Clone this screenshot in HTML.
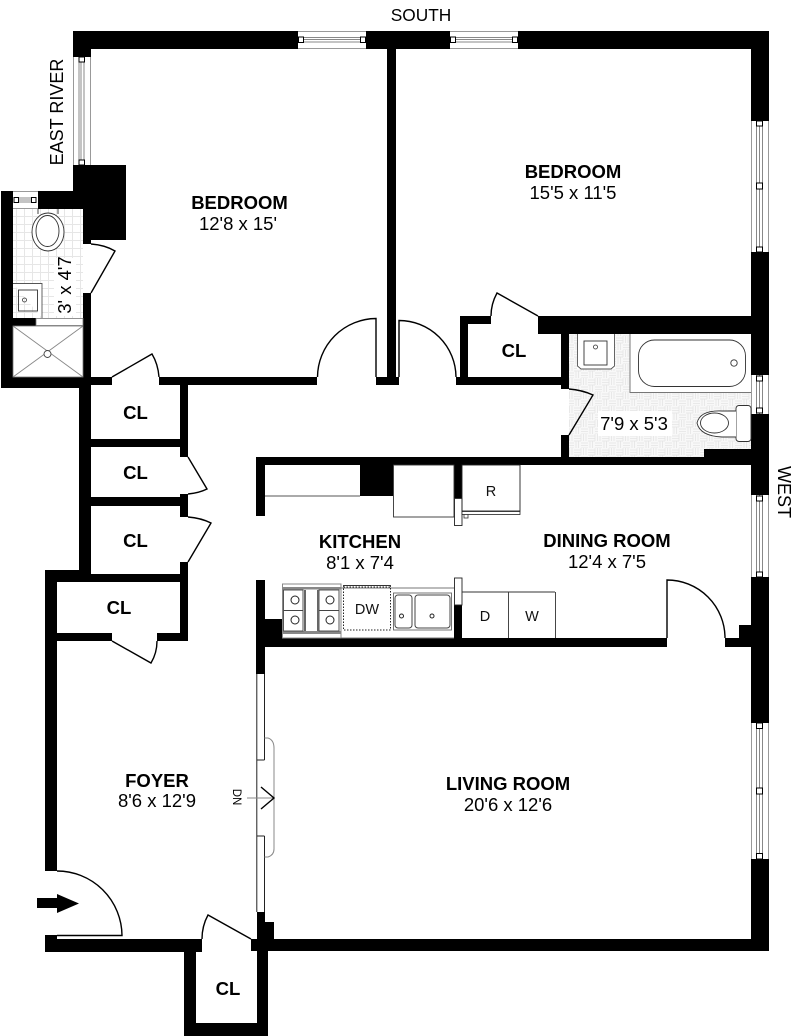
<!DOCTYPE html>
<html><head><meta charset="utf-8"><title>Floor plan</title>
<style>
html,body{margin:0;padding:0;background:#fff;width:800px;height:1036px;overflow:hidden}
svg{display:block}
text{font-family:"Liberation Sans",sans-serif;font-size:18.5px;fill:#000;text-anchor:middle}
.b{font-weight:bold}
.s{font-size:14.5px;fill:#111}
.d{fill:none;stroke:#000;stroke-width:1.4}
.g{fill:none;stroke:#888;stroke-width:1}
.t{fill:none;stroke:#222;stroke-width:1}
.sq{fill:#fff;stroke:#000;stroke-width:1}
.wl{fill:none;stroke:#999;stroke-width:1}
</style></head><body>
<svg width="800" height="1036" viewBox="0 0 800 1036" xmlns="http://www.w3.org/2000/svg">
<defs>
<pattern id="grid" width="8" height="8" patternUnits="userSpaceOnUse"><path d="M0 .5H8M.5 0V8" stroke="#e6e6e6" stroke-width="1" fill="none"/></pattern>
<pattern id="weave" width="14" height="14" patternUnits="userSpaceOnUse"><rect width="14" height="14" fill="#f8f8f8"/><path d="M0 2H7M0 4.5H7M0 7H7M7 0V7M9.5 0V7M12 0V7M7 9H14M7 11.5H14M7 14H14M2 7V14M4.5 7V14" stroke="#e4e4e4" stroke-width=".8" fill="none"/></pattern>
</defs>

<rect x="13" y="209" width="70" height="109" fill="url(#grid)"/>
<rect x="569" y="334" width="182" height="123" fill="url(#weave)"/>
<rect x="630" y="334" width="121" height="59" fill="#fff"/>
<rect x="577" y="334" width="38" height="35" fill="#fff"/>
<rect x="598" y="411" width="74" height="25" fill="#fff"/>
<rect x="54" y="258" width="22" height="58" fill="#fff"/>

<g fill="#000">
<rect x="73" y="31" width="225" height="18"/>
<rect x="366" y="31" width="84" height="18"/>
<rect x="518" y="31" width="251" height="18"/>
<rect x="73" y="49" width="18" height="8"/>
<rect x="73" y="165" width="53" height="26"/>
<rect x="38" y="191" width="88" height="18"/>
<rect x="83" y="209" width="43" height="31"/>
<rect x="83" y="240" width="8" height="4"/>
<rect x="1" y="191" width="12" height="197"/>
<rect x="1" y="377" width="90" height="11"/>
<rect x="83" y="293" width="8" height="92"/>
<rect x="13" y="318" width="23" height="8"/>
<rect x="83" y="377" width="29" height="8"/>
<rect x="159" y="377" width="158" height="8"/>
<rect x="79" y="385" width="12" height="189"/>
<rect x="180" y="385" width="8" height="72"/>
<rect x="79" y="439" width="109" height="8"/>
<rect x="79" y="497" width="109" height="9"/>
<rect x="180" y="494" width="8" height="23"/>
<rect x="180" y="562" width="8" height="79"/>
<rect x="46" y="570" width="45" height="12"/>
<rect x="46" y="574" width="142" height="8"/>
<rect x="45" y="570" width="12" height="301"/>
<rect x="57" y="633" width="55" height="8"/>
<rect x="157" y="633" width="31" height="8"/>
<rect x="45" y="935" width="12" height="17"/>
<rect x="45" y="939" width="157" height="13"/>
<rect x="184" y="952" width="12" height="72"/>
<rect x="184" y="1023" width="84" height="13"/>
<rect x="257" y="951" width="11" height="73"/>
<rect x="251" y="939" width="518" height="12"/>
<rect x="257" y="922" width="17" height="17"/>
<rect x="257" y="912" width="8" height="27"/>
<rect x="256" y="580" width="9" height="94"/>
<rect x="256" y="619" width="26" height="19"/>
<rect x="256" y="638" width="411" height="9"/>
<rect x="725" y="638" width="27" height="9"/>
<rect x="739" y="625" width="30" height="13"/>
<rect x="256" y="457" width="496" height="8"/>
<rect x="256" y="465" width="9" height="51"/>
<rect x="360" y="465" width="33" height="31"/>
<rect x="454" y="465" width="8" height="33"/>
<rect x="454" y="605" width="8" height="33"/>
<rect x="751" y="49" width="18" height="72"/>
<rect x="751" y="252" width="18" height="123"/>
<rect x="751" y="414" width="18" height="81"/>
<rect x="751" y="577" width="18" height="146"/>
<rect x="751" y="859" width="18" height="92"/>
<rect x="538" y="316" width="213" height="18"/>
<rect x="460" y="316" width="31" height="8"/>
<rect x="460" y="316" width="8" height="69"/>
<rect x="456" y="377" width="113" height="8"/>
<rect x="561" y="316" width="8" height="73"/>
<rect x="561" y="435" width="8" height="22"/>
<rect x="704" y="449" width="48" height="8"/>
<rect x="387" y="49" width="9" height="328"/>
<rect x="376" y="377" width="23" height="8"/>
</g>

<path class="wl" d="M298 31.5H366M298 48.5H366M450 31.5H518M450 48.5H518"/>
<path class="g" d="M304 37.5H360M304 39.5H360M304 42H360M456 37.5H512M456 39.5H512M456 42H512"/>
<rect class="sq" x="298.5" y="37" width="5" height="5.5"/>
<rect class="sq" x="360.5" y="37" width="5" height="5.5"/>
<rect class="sq" x="450.5" y="37" width="5" height="5.5"/>
<rect class="sq" x="512.5" y="37" width="5" height="5.5"/>
<path class="wl" d="M13 191.5H38M13 208.5H38"/>
<path class="g" d="M18 198H31M18 200H31M18 202H31"/>
<rect class="sq" x="14" y="197.5" width="4.5" height="5"/>
<rect class="sq" x="31.5" y="197.5" width="4.5" height="5"/>

<path class="wl" d="M73.5 57V165M90.5 57V165"/>
<path class="g" d="M79 62V160M81 62V160M84 62V160"/>
<rect class="sq" x="79" y="57" width="5.5" height="5"/>
<rect class="sq" x="79" y="160" width="5.5" height="5"/>
<path class="wl" d="M751.5 121V252M768.5 121V252M751.5 375V414M768.5 375V414M751.5 495V577M768.5 495V577M751.5 723V859M768.5 723V859"/>
<path class="g" d="M756.5 121V252M759.5 121V252M762.5 121V252M756.5 375V414M759.5 375V414M762.5 375V414M756.5 495V577M759.5 495V577M762.5 495V577M756.5 723V859M759.5 723V859M762.5 723V859"/>
<rect class="sq" x="756.5" y="121" width="6" height="5"/>
<rect class="sq" x="756.5" y="183" width="6" height="6"/>
<rect class="sq" x="756.5" y="247" width="6" height="5"/>
<rect class="sq" x="756.5" y="376" width="6" height="5"/>
<rect class="sq" x="756.5" y="408" width="6" height="5"/>
<rect class="sq" x="756.5" y="496" width="6" height="5"/>
<rect class="sq" x="756.5" y="572" width="6" height="5"/>
<rect class="sq" x="756.5" y="723" width="6" height="5.5"/>
<rect class="sq" x="756.5" y="788" width="6" height="6"/>
<rect class="sq" x="756.5" y="853.5" width="6" height="5.5"/>

<path class="d" d="M376 377V318.5A59 59 0 0 0 317.5 377"/>
<path class="d" d="M399 377V320.5A57 57 0 0 1 456 377"/>
<path class="d" d="M91 244Q105 245 115 251L91 293"/>
<path class="d" d="M112 377L152 354Q158 364 159 377"/>
<path class="d" d="M188 457L207 489Q199 493 188 494"/>
<path class="d" d="M188 517Q201 518 211 523L188 562"/>
<path class="d" d="M112 641L151 663Q157 653 157 641"/>
<path class="d" d="M491 316Q491 304 497 293L538 316"/>
<path class="d" d="M569 389Q582 390 593 395L569 435"/>
<path class="d" d="M202 939Q202 926 208 915L251 939"/>
<path class="d" d="M57 871A65 65 0 0 1 122 935.5H57"/>
<path class="d" d="M667 638V580A58 58 0 0 1 725 638"/>
<path fill="#000" d="M37 898H57V894L79 903.5L57 913V908H37Z"/>

<path class="t" d="M256.8 674V912M264.5 674V738M264.5 857V912M256.8 760H264.5M256.8 836H264.5"/>
<path class="t" d="M264.5 738V760M264.5 836V857"/>
<path class="g" d="M264.5 738H268Q274 740 274 748V849Q274 855 268 857H264.5"/>
<path class="g" d="M247 798H273"/>
<path class="d" d="M261 787L274 798L261 809"/>

<path d="M265 496H360" stroke="#777" stroke-width="1.2"/>
<rect x="393.5" y="465" width="60.5" height="52" fill="none" stroke="#333" stroke-width=".9"/>
<rect x="454.5" y="498.5" width="7.5" height="27" fill="#fff" stroke="#222" stroke-width=".9"/>
<rect x="462" y="465" width="58" height="46" fill="none" stroke="#222" stroke-width=".9"/>
<rect x="462" y="511.5" width="58" height="3" fill="#fff" stroke="#222" stroke-width=".8"/>
<rect x="464" y="514.5" width="4" height="3.5" fill="#fff" stroke="#333" stroke-width=".8"/>
<rect x="454.5" y="578" width="7.5" height="27" fill="#fff" stroke="#222" stroke-width=".9"/>

<rect x="282.5" y="584" width="58.5" height="54" fill="none" stroke="#888" stroke-width="1"/>
<rect x="283" y="587" width="58" height="2.5" fill="#888"/>
<rect x="283" y="631" width="58" height="3" fill="#888"/>
<rect x="283.5" y="590" width="19.5" height="41" fill="none" stroke="#444" stroke-width=".9"/>
<path d="M283.5 610.5H303M319 610.5H339" stroke="#444" stroke-width=".9"/>
<rect x="319" y="590" width="20" height="41" fill="none" stroke="#444" stroke-width=".9"/>
<path d="M305 590V631M318 590V631" stroke="#666" stroke-width="2"/>
<circle class="t" cx="295" cy="600" r="4"/>
<circle class="t" cx="295" cy="620" r="4"/>
<circle class="t" cx="330" cy="600" r="4"/>
<circle class="t" cx="330" cy="620" r="4"/>
<path d="M341 588H454M341 638H454" stroke="#777" stroke-width="1"/>
<rect x="343.5" y="587" width="47" height="43" fill="none" stroke="#222" stroke-width="1" stroke-dasharray="1.5 1.5"/>
<path d="M343.5 587V585.5H390.5V587" fill="none" stroke="#333" stroke-width=".9"/>
<rect x="393.5" y="593" width="58" height="37" fill="none" stroke="#666" stroke-width=".9"/>
<rect x="395" y="595" width="17" height="33" rx="3" fill="none" stroke="#444" stroke-width="1"/>
<rect x="415" y="595" width="35" height="33" rx="3" fill="none" stroke="#444" stroke-width="1"/>
<circle class="t" cx="401.5" cy="616" r="2"/>
<circle class="t" cx="432" cy="616" r="2"/>
<path d="M462 592H555M508.5 592V638M555.5 592V638" fill="none" stroke="#333" stroke-width=".9"/>

<path d="M630 334V392.5H751" fill="none" stroke="#777" stroke-width="1"/>
<rect x="638.5" y="340" width="107" height="46.5" rx="16" fill="none" stroke="#333" stroke-width=".9"/>
<circle cx="734" cy="363" r="3.2" fill="none" stroke="#333" stroke-width=".9"/>
<path d="M577.5 334V366L581 369H611L614.5 366V334" fill="none" stroke="#555" stroke-width=".9"/>
<rect x="584" y="341" width="23" height="24" fill="none" stroke="#333" stroke-width=".9"/>
<circle cx="595.5" cy="347" r="2" fill="none" stroke="#333" stroke-width=".8"/>
<rect x="736" y="405.5" width="15" height="36" rx="3" fill="#fff" stroke="#333" stroke-width=".9"/>
<path d="M736 411H722Q700 410 697 423Q700 436 722 437H736" fill="#fff" stroke="#333" stroke-width=".9"/>
<ellipse cx="714.5" cy="423" rx="14" ry="10" fill="none" stroke="#333" stroke-width=".9"/>

<path d="M38 209V214M58 209V214" stroke="#333" stroke-width=".9"/>
<ellipse cx="48" cy="232" rx="16" ry="19" fill="#fff" stroke="#333" stroke-width=".9"/>
<ellipse cx="47.5" cy="231" rx="11.5" ry="15.5" fill="none" stroke="#333" stroke-width=".9"/>
<path d="M13 283.5H42V318" fill="#fff" stroke="#555" stroke-width=".9"/>
<rect x="18.5" y="290" width="19" height="21" fill="none" stroke="#333" stroke-width=".9"/>
<circle cx="24.5" cy="300" r="2" fill="none" stroke="#333" stroke-width=".8"/>
<rect x="36" y="318.5" width="47" height="7" fill="#fff" stroke="#777" stroke-width=".8"/>
<path d="M13 326L83 377M83 326L13 377" stroke="#888" stroke-width=".9"/>
<rect x="13" y="326" width="70" height="51" fill="none" stroke="#777" stroke-width=".8"/>
<circle cx="47.5" cy="354" r="3.5" fill="#fff" stroke="#444" stroke-width=".9"/>

<text x="421" y="21" style="font-size:17.3px">SOUTH</text>
<text transform="translate(63 112) rotate(-90)" style="font-size:18px">EAST RIVER</text>
<text transform="translate(778 492) rotate(90)" style="font-size:18px">WEST</text>
<text class="b" x="239.5" y="209">BEDROOM</text>
<text x="238" y="230">12'8 x 15'</text>
<text class="b" x="573" y="178">BEDROOM</text>
<text x="573" y="199">15'5 x 11'5</text>
<text class="b" x="360" y="548">KITCHEN</text>
<text x="360" y="569">8'1 x 7'4</text>
<text class="b" x="607" y="547">DINING ROOM</text>
<text x="607" y="568">12'4 x 7'5</text>
<text class="b" x="157" y="787">FOYER</text>
<text x="157" y="807">8'6 x 12'9</text>
<text class="b" x="508" y="790">LIVING ROOM</text>
<text x="508" y="811">20'6 x 12'6</text>
<text x="634" y="430">7'9 x 5'3</text>
<text transform="translate(71 285) rotate(-90)">3' x 4'7</text>
<text class="b" x="135.5" y="419">CL</text>
<text class="b" x="135.5" y="479">CL</text>
<text class="b" x="135.5" y="547">CL</text>
<text class="b" x="119" y="614">CL</text>
<text class="b" x="514" y="357">CL</text>
<text class="b" x="228" y="995">CL</text>
<text class="s" x="367" y="614">DW</text>
<text class="s" x="485" y="621">D</text>
<text class="s" x="532" y="621">W</text>
<text class="s" x="491" y="496">R</text>
<text transform="translate(233 797) rotate(90)" style="font-size:11.5px">DN</text>
</svg>
</body></html>
